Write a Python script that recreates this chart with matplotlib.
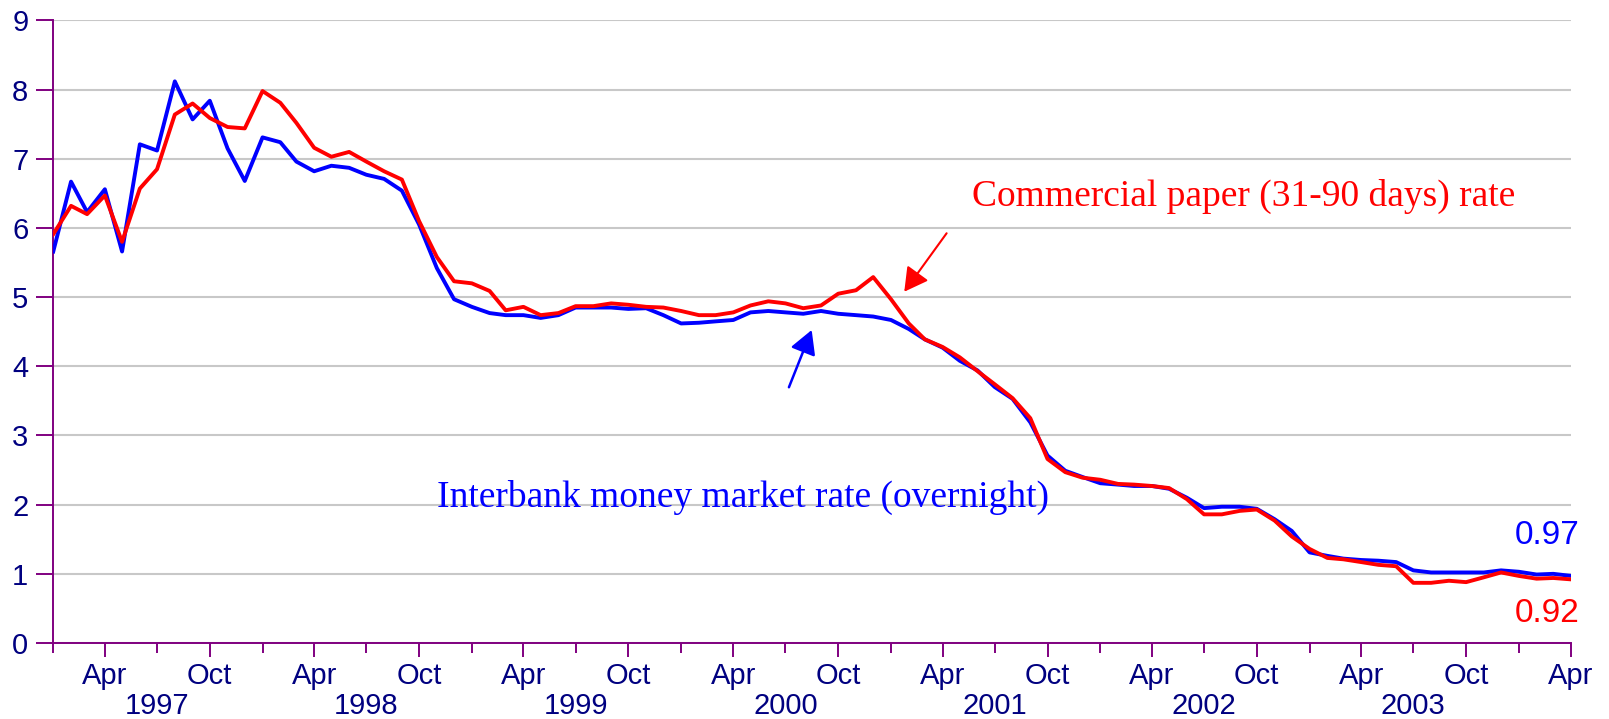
import numpy as np
import pandas as pd
import matplotlib
matplotlib.use("Agg")
import matplotlib.pyplot as plt
import matplotlib.dates as mdates
from matplotlib.ticker import FuncFormatter

# monthly observations, Jan 1997 .. Apr 2004
months = pd.date_range("1997-01-01", periods=88, freq="MS")

interbank = [
    5.66, 6.67, 6.23, 6.56, 5.66, 7.21, 7.12, 8.12, 7.57, 7.84, 7.15, 6.68,
    7.31, 7.24, 6.96, 6.82, 6.90, 6.87, 6.77, 6.71, 6.54, 6.05, 5.42, 4.97,
    4.86, 4.77, 4.74, 4.74, 4.70, 4.74, 4.85, 4.85, 4.85, 4.83, 4.84, 4.74,
    4.62, 4.63, 4.65, 4.67, 4.78, 4.80, 4.78, 4.76, 4.80, 4.76, 4.74, 4.72,
    4.67, 4.54, 4.39, 4.27, 4.08, 3.94, 3.70, 3.53, 3.19, 2.71, 2.49, 2.40,
    2.31, 2.29, 2.27, 2.27, 2.23, 2.10, 1.95, 1.97, 1.97, 1.94, 1.79, 1.62,
    1.31, 1.26, 1.22, 1.20, 1.19, 1.17, 1.05, 1.02, 1.02, 1.02, 1.02, 1.05,
    1.03, 0.99, 1.00, 0.97,
]

commercial_paper = [
    5.91, 6.32, 6.20, 6.47, 5.80, 6.57, 6.85, 7.64, 7.80, 7.59, 7.46, 7.44,
    7.98, 7.81, 7.52, 7.16, 7.03, 7.10, 6.96, 6.82, 6.70, 6.10, 5.58, 5.23,
    5.20, 5.09, 4.81, 4.86, 4.74, 4.77, 4.87, 4.87, 4.91, 4.89, 4.86, 4.85,
    4.80, 4.74, 4.74, 4.78, 4.88, 4.94, 4.91, 4.84, 4.88, 5.05, 5.10, 5.29,
    4.97, 4.62, 4.39, 4.28, 4.13, 3.93, 3.74, 3.54, 3.25, 2.66, 2.47, 2.39,
    2.36, 2.30, 2.29, 2.27, 2.24, 2.08, 1.86, 1.86, 1.91, 1.93, 1.77, 1.54,
    1.36, 1.23, 1.21, 1.17, 1.13, 1.11, 0.87, 0.87, 0.90, 0.88, 0.95, 1.02,
    0.97, 0.93, 0.94, 0.92,
]

y_ticks = list(range(0, 10))

NAVY = "#000080"
PURPLE = "#800080"

fig = plt.figure(figsize=(16.09, 7.19), dpi=100)
ax = fig.add_axes([0.0331, 0.1057, 0.9433, 0.8658])

ax.plot(months, interbank, color="#0000ff", lw=2.8, zorder=3)
ax.plot(months, commercial_paper, color="#ff0000", lw=2.8, zorder=4)

ax.set_xlim(months[0], months[-1])
ax.set_ylim(0, 9)
ax.set_yticks(y_ticks)
ax.grid(axis="y", color="#c8c8c8", lw=1.5, zorder=0)
ax.set_axisbelow(True)

for side in ["top", "right"]:
    ax.spines[side].set_visible(False)
for side in ["left", "bottom"]:
    ax.spines[side].set_color(PURPLE)
    ax.spines[side].set_linewidth(1.4)

ax.xaxis.set_major_locator(mdates.MonthLocator(bymonth=[4, 10]))
ax.xaxis.set_major_formatter(mdates.DateFormatter("%b"))
ax.xaxis.set_minor_locator(mdates.MonthLocator(bymonth=[1, 7]))


def year_label(x, pos):
    d = mdates.num2date(x)
    return str(d.year) if d.month == 7 else ""


ax.xaxis.set_minor_formatter(FuncFormatter(year_label))

ax.tick_params(axis="x", which="major", length=10, width=1.4, color=PURPLE,
               labelcolor=NAVY, labelsize=21, pad=4)
ax.tick_params(axis="x", which="minor", length=7, width=1.4, color=PURPLE,
               labelcolor=NAVY, labelsize=21, pad=28)
ax.tick_params(axis="y", length=12, width=1.4, color=PURPLE,
               labelcolor=NAVY, labelsize=21, pad=6)
for lab in ax.get_xticklabels(which="both") + ax.get_yticklabels():
    lab.set_family("Liberation Sans")

serif = "Liberation Serif"
ax.text(0.7845, 0.718, "Commercial paper (31-90 days) rate", color="#ff0000",
        fontsize=27, family=serif, ha="center", va="center",
        transform=ax.transAxes)
ax.text(0.4544, 0.2345, "Interbank money market rate (overnight)",
        color="#0000ff", fontsize=27, family=serif, ha="center", va="center",
        transform=ax.transAxes)

ax.annotate("", xy=(0.5607, 0.5643), xytext=(0.5886, 0.6582),
            xycoords="axes fraction", textcoords="axes fraction",
            arrowprops=dict(arrowstyle="-|>,head_length=0.45,head_width=0.25",
                            color="#ff0000", lw=1.5,
                            mutation_scale=32, shrinkA=0, shrinkB=0))
ax.annotate("", xy=(0.4997, 0.5028), xytext=(0.4847, 0.4108),
            xycoords="axes fraction", textcoords="axes fraction",
            arrowprops=dict(arrowstyle="-|>,head_length=0.45,head_width=0.25",
                            color="#0000ff", lw=1.8,
                            mutation_scale=32, shrinkA=0, shrinkB=0))

ax.text(0.9845, 0.1719, f"{interbank[-1]:.2f}", color="#0000ff", fontsize=24,
        family="Liberation Sans", ha="center", va="center",
        transform=ax.transAxes)
ax.text(0.9845, 0.0466, f"{commercial_paper[-1]:.2f}", color="#ff0000",
        fontsize=24, family="Liberation Sans", ha="center", va="center",
        transform=ax.transAxes)

fig.savefig("out.png", dpi=100)
